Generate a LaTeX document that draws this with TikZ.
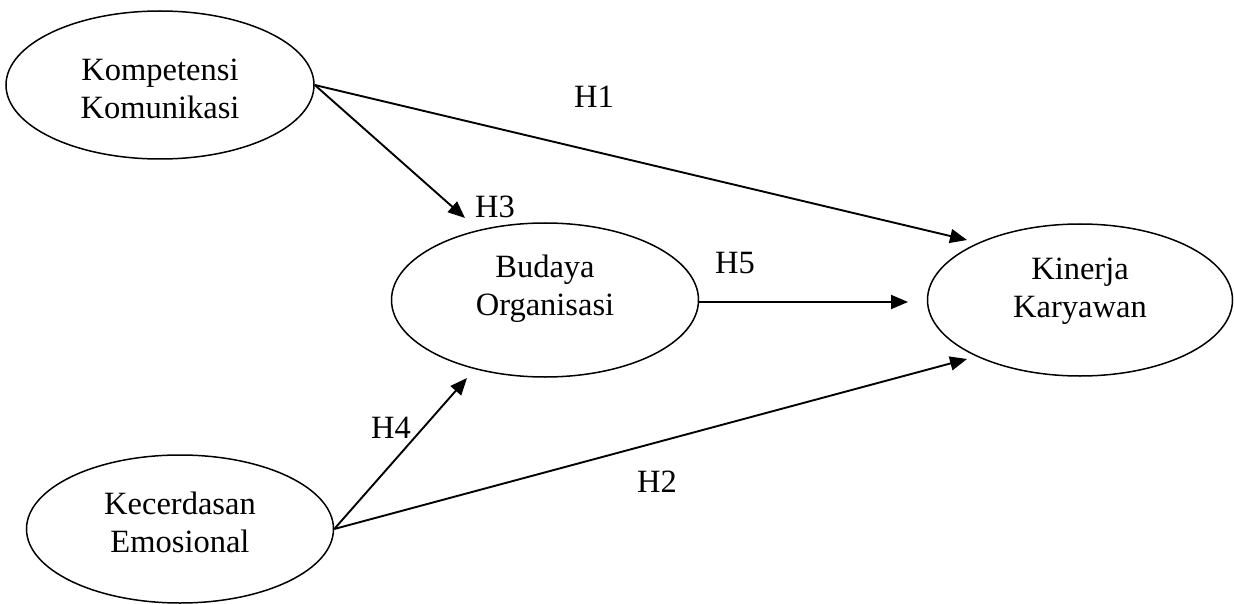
\documentclass[tikz,border=0pt]{standalone}
\usepackage{fontspec}
\setmainfont{Liberation Serif}
\usetikzlibrary{shapes.geometric,arrows.meta}
\begin{document}
\begin{tikzpicture}[x=1pt,y=-1pt,
  ell/.style={ellipse,draw,line width=1.5pt,inner sep=0pt},
  lbl/.style={align=center,font=\fontsize{32.5}{38}\selectfont,inner sep=0pt},
  hyp/.style={font=\fontsize{32.5}{38}\selectfont,inner sep=0pt},
  conn/.style={line width=1.9pt,-{Triangle[length=17pt,width=14pt]}}]
\useasboundingbox (0,0) rectangle (1234,604);
% ellipses
\node[ell,minimum width=308pt,minimum height=148pt] (KK) at (160,85) {};
\node[ell,minimum width=307pt,minimum height=154pt] (BO) at (545,300) {};
\node[ell,minimum width=305pt,minimum height=152pt] (KY) at (1080,300) {};
\node[ell,minimum width=307pt,minimum height=148pt] (KE) at (180,529) {};
% texts
\node[lbl] (KKt) at (160,89) {Kompetensi\\Komunikasi};
\node[lbl] (BOt) at (545,289) {Budaya\\Organisasi};
\node[lbl] (KYt) at (1080,291) {Kinerja\\Karyawan};
\node[lbl] (KEt) at (180,522) {Kecerdasan\\Emosional};
% arrow tips
\coordinate (t1) at (967,240);
\coordinate (t3) at (465,218);
\coordinate (t5) at (908,302);
\coordinate (t4) at (467,378);
\coordinate (t2) at (967,359);
\coordinate (s5) at (698,302);
% connectors
\draw[conn] (KK.east) -- (t1);
\draw[conn] (KK.east) -- (t3);
\draw[conn] (s5) -- (t5);
\draw[conn] (KE.east) -- (t4);
\draw[conn] (KE.east) -- (t2);
% labels
\node[hyp] (H1) at (594,97) {H1};
\node[hyp] (H3) at (495,207) {H3};
\node[hyp] (H5) at (735,263) {H5};
\node[hyp] (H4) at (391,428) {H4};
\node[hyp] (H2) at (657,482) {H2};
\end{tikzpicture}
\end{document}
